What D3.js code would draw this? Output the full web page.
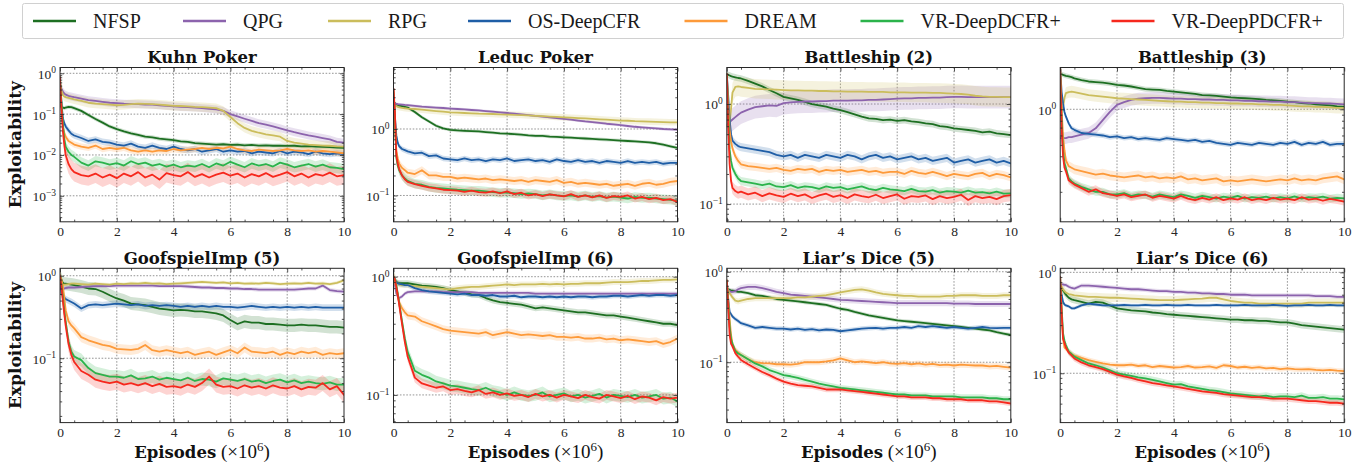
<!DOCTYPE html>
<html><head><meta charset="utf-8">
<script src="https://cdn.jsdelivr.net/npm/d3@7"></script>
<style>body{margin:0;background:#fff}svg{display:block}</style>
</head><body>
<svg id="chart" width="1369" height="468"></svg>
<script>
// ---------------- DATA ----------------
const X = [0,0.05,0.1,0.15,0.2,0.3,0.4,0.5,0.75,1,1.25,1.5,1.75,2,2.25,2.5,2.75,3,3.25,3.5,3.75,4,4.25,4.5,4.75,5,5.25,5.5,5.75,6,6.25,6.5,6.75,7,7.25,7.5,7.75,8,8.25,8.5,8.75,9,9.25,9.5,9.75,10];
const seriesNames = ["NFSP","QPG","RPG","OS-DeepCFR","DREAM","VR-DeepDCFR+","VR-DeepPDCFR+"];
const seriesColors = ["#1d6f22","#8c63ad","#cbbd5c","#1f5ea6","#fd9a3a","#2bb34b","#f6281d"];
const panelTitles = ["Kuhn Poker","Leduc Poker","Battleship (2)","Battleship (3)","GoofspielImp (5)","GoofspielImp (6)","Liar\u2019s Dice (5)","Liar\u2019s Dice (6)"];
const xTicks = [0,2,4,6,8,10];

// Kuhn Poker
const kuhn_NFSP = [0.16,0.15,0.145,0.14,0.145,0.15,0.148,0.14,0.12,0.095,0.076,0.062,0.05,0.043,0.038,0.034,0.031,0.028,0.027,0.025,0.024,0.023,0.0215,0.021,0.0195,0.019,0.0185,0.018,0.0183,0.0176,0.018,0.0172,0.0176,0.017,0.0172,0.0168,0.017,0.0166,0.0168,0.0162,0.0164,0.016,0.0158,0.0156,0.0152,0.015];
const kuhn_QPG = [0.5,0.42,0.36,0.32,0.3,0.28,0.27,0.26,0.24,0.22,0.21,0.2,0.19,0.185,0.18,0.178,0.175,0.172,0.17,0.165,0.16,0.155,0.15,0.148,0.145,0.14,0.135,0.13,0.12,0.1,0.088,0.077,0.068,0.06,0.055,0.05,0.045,0.04,0.036,0.033,0.03,0.028,0.026,0.024,0.021,0.02];
const kuhn_RPG = [0.55,0.38,0.3,0.27,0.26,0.25,0.24,0.23,0.21,0.19,0.18,0.175,0.17,0.165,0.168,0.175,0.18,0.178,0.175,0.17,0.165,0.16,0.158,0.155,0.15,0.148,0.145,0.14,0.12,0.085,0.06,0.046,0.039,0.035,0.032,0.03,0.028,0.022,0.02,0.019,0.018,0.0175,0.017,0.0168,0.0162,0.016];
const kuhn_OS = [0.6,0.2,0.08,0.06,0.05,0.04,0.033,0.03,0.026,0.022,0.024,0.021,0.02,0.018,0.017,0.019,0.016,0.015,0.017,0.015,0.014,0.016,0.014,0.013,0.014,0.012,0.013,0.014,0.012,0.013,0.012,0.0125,0.011,0.012,0.0115,0.011,0.0125,0.011,0.012,0.0115,0.0105,0.012,0.011,0.0105,0.011,0.0105];
const kuhn_DREAM = [0.6,0.15,0.05,0.035,0.028,0.022,0.02,0.018,0.016,0.015,0.017,0.014,0.015,0.014,0.015,0.013,0.012,0.013,0.012,0.013,0.0125,0.014,0.013,0.0135,0.014,0.015,0.014,0.015,0.0145,0.016,0.014,0.013,0.0125,0.0135,0.013,0.0125,0.013,0.014,0.013,0.0125,0.013,0.012,0.0125,0.012,0.0115,0.011];
const kuhn_VRD = [0.8,0.2,0.06,0.025,0.016,0.012,0.01,0.009,0.0065,0.0055,0.007,0.0065,0.0058,0.0063,0.0055,0.007,0.006,0.0065,0.0055,0.006,0.0052,0.0058,0.005,0.0055,0.0052,0.006,0.005,0.0062,0.0055,0.0068,0.0058,0.005,0.0062,0.0055,0.006,0.0052,0.0065,0.0058,0.005,0.0055,0.006,0.0052,0.0058,0.005,0.0048,0.0045];
const kuhn_VRPD = [0.8,0.15,0.04,0.018,0.01,0.006,0.0045,0.0038,0.0032,0.003,0.0035,0.0028,0.0033,0.0027,0.0035,0.003,0.0038,0.0028,0.0033,0.0025,0.0036,0.0032,0.003,0.0038,0.0029,0.0034,0.0028,0.0033,0.0037,0.0031,0.0035,0.0028,0.0034,0.003,0.0036,0.0029,0.0033,0.0038,0.003,0.0035,0.0028,0.0034,0.0031,0.0037,0.003,0.0032];
const kuhn_band = [1.12,1.25,1.3,1.2,1.2,1.35,1.7];

// Leduc Poker
const leduc_NFSP = [2.5,2.45,2.35,2.3,2.25,2.2,2.15,2.1,1.8,1.5,1.3,1.12,1.02,0.97,0.95,0.94,0.93,0.92,0.9,0.88,0.86,0.85,0.84,0.82,0.8,0.79,0.79,0.77,0.76,0.75,0.74,0.73,0.72,0.71,0.7,0.69,0.68,0.67,0.66,0.65,0.64,0.63,0.61,0.58,0.55,0.52];
const leduc_QPG = [2.4,2.4,2.38,2.36,2.35,2.33,2.3,2.28,2.22,2.17,2.14,2.1,2.07,2.03,2.0,1.97,1.93,1.9,1.86,1.82,1.78,1.74,1.7,1.66,1.62,1.58,1.54,1.5,1.46,1.42,1.38,1.34,1.3,1.27,1.24,1.2,1.17,1.14,1.11,1.08,1.06,1.04,1.02,1.0,0.99,0.98];
const leduc_RPG = [2.3,2.25,2.2,2.15,2.12,2.08,2.05,2.03,2.0,1.95,1.9,1.86,1.82,1.78,1.76,1.74,1.72,1.7,1.69,1.68,1.66,1.65,1.63,1.62,1.6,1.58,1.56,1.54,1.52,1.5,1.48,1.46,1.44,1.42,1.4,1.38,1.36,1.34,1.33,1.31,1.3,1.29,1.28,1.27,1.26,1.26];
const leduc_OS = [4.0,1.5,0.8,0.62,0.55,0.5,0.48,0.46,0.43,0.44,0.39,0.4,0.36,0.35,0.34,0.36,0.34,0.35,0.33,0.35,0.34,0.36,0.33,0.34,0.35,0.33,0.34,0.32,0.35,0.33,0.32,0.34,0.32,0.33,0.31,0.33,0.32,0.31,0.33,0.31,0.32,0.31,0.32,0.3,0.31,0.31];
const leduc_DREAM = [4.0,1.2,0.47,0.36,0.3,0.26,0.24,0.22,0.21,0.24,0.2,0.2,0.19,0.19,0.18,0.185,0.18,0.175,0.18,0.17,0.175,0.17,0.165,0.17,0.16,0.17,0.165,0.16,0.17,0.155,0.16,0.15,0.155,0.15,0.145,0.15,0.14,0.145,0.15,0.14,0.15,0.155,0.145,0.15,0.16,0.165];
const leduc_VRD = [3.5,1.5,0.37,0.28,0.24,0.2,0.18,0.166,0.15,0.145,0.135,0.13,0.128,0.125,0.122,0.12,0.118,0.118,0.115,0.112,0.11,0.11,0.108,0.105,0.107,0.105,0.1,0.104,0.1,0.098,0.1,0.096,0.1,0.095,0.098,0.093,0.096,0.093,0.09,0.095,0.092,0.093,0.09,0.088,0.086,0.083];
const leduc_VRPD = [4.0,1.8,0.4,0.3,0.25,0.2,0.175,0.16,0.148,0.14,0.132,0.128,0.122,0.12,0.118,0.113,0.118,0.112,0.11,0.115,0.108,0.115,0.105,0.11,0.1,0.105,0.098,0.104,0.1,0.097,0.105,0.095,0.1,0.094,0.1,0.092,0.098,0.095,0.1,0.09,0.095,0.088,0.092,0.085,0.088,0.08];
const leduc_band = [1.06,1.05,1.12,1.1,1.15,1.18,1.15];

// Battleship (2)
const bs2_NFSP = [2.0,1.95,1.93,1.9,1.88,1.85,1.82,1.8,1.7,1.6,1.5,1.38,1.28,1.18,1.14,1.1,1.05,1.0,0.97,0.94,0.9,0.87,0.83,0.79,0.75,0.72,0.71,0.69,0.7,0.68,0.69,0.67,0.66,0.64,0.63,0.6,0.59,0.57,0.56,0.55,0.54,0.52,0.53,0.51,0.5,0.49];
const bs2_QPG = [0.62,0.64,0.66,0.68,0.7,0.74,0.78,0.82,0.88,0.93,0.95,0.97,0.96,1.02,1.04,1.05,1.06,1.06,1.07,1.07,1.08,1.08,1.08,1.09,1.09,1.1,1.1,1.11,1.12,1.13,1.14,1.14,1.15,1.15,1.16,1.16,1.17,1.18,1.18,1.17,1.17,1.17,1.17,1.17,1.17,1.17];
const bs2_RPG = [0.6,0.62,0.65,0.9,1.3,1.48,1.5,1.48,1.45,1.42,1.41,1.4,1.39,1.38,1.37,1.37,1.36,1.36,1.35,1.35,1.34,1.34,1.33,1.33,1.33,1.32,1.32,1.32,1.31,1.31,1.31,1.3,1.3,1.3,1.29,1.29,1.28,1.27,1.26,1.24,1.21,1.19,1.18,1.18,1.17,1.17];
const bs2_OS = [2.0,1.2,0.7,0.5,0.43,0.4,0.38,0.37,0.36,0.35,0.34,0.33,0.31,0.3,0.31,0.29,0.31,0.3,0.29,0.31,0.3,0.29,0.31,0.3,0.28,0.3,0.31,0.29,0.3,0.28,0.29,0.3,0.28,0.29,0.27,0.28,0.29,0.26,0.27,0.28,0.26,0.27,0.28,0.26,0.27,0.255];
const bs2_DREAM = [2.0,1.0,0.55,0.42,0.36,0.3,0.27,0.25,0.24,0.235,0.23,0.225,0.23,0.22,0.215,0.225,0.22,0.225,0.21,0.22,0.215,0.22,0.21,0.215,0.22,0.21,0.215,0.205,0.21,0.21,0.2,0.215,0.205,0.2,0.21,0.2,0.19,0.2,0.195,0.19,0.2,0.205,0.19,0.2,0.195,0.185];
const bs2_VRD = [2.0,0.8,0.35,0.27,0.23,0.2,0.18,0.17,0.165,0.16,0.155,0.16,0.15,0.148,0.155,0.145,0.15,0.148,0.142,0.15,0.145,0.148,0.14,0.145,0.15,0.142,0.138,0.145,0.14,0.138,0.135,0.142,0.135,0.133,0.138,0.13,0.135,0.133,0.13,0.136,0.13,0.132,0.128,0.133,0.127,0.128];
const bs2_VRPD = [2.0,0.6,0.25,0.17,0.145,0.135,0.13,0.133,0.125,0.13,0.12,0.128,0.122,0.118,0.127,0.12,0.125,0.115,0.122,0.127,0.118,0.123,0.115,0.125,0.12,0.117,0.124,0.115,0.12,0.125,0.113,0.12,0.118,0.122,0.112,0.12,0.115,0.118,0.124,0.11,0.12,0.115,0.118,0.112,0.12,0.123];
const bs2_band = [1.08,1.3,1.25,1.1,1.1,1.1,1.15];

// Battleship (3)
const bs3_NFSP = [2.0,1.98,1.96,1.94,1.92,1.9,1.87,1.83,1.77,1.72,1.7,1.68,1.65,1.61,1.59,1.56,1.52,1.48,1.47,1.46,1.43,1.41,1.39,1.37,1.35,1.32,1.31,1.3,1.28,1.26,1.25,1.24,1.23,1.22,1.2,1.19,1.18,1.16,1.15,1.13,1.12,1.1,1.09,1.08,1.06,1.05];
const bs3_QPG = [0.57,0.57,0.57,0.57,0.57,0.58,0.58,0.59,0.61,0.63,0.69,0.81,0.95,1.09,1.15,1.2,1.23,1.24,1.25,1.25,1.24,1.23,1.23,1.22,1.22,1.21,1.21,1.2,1.2,1.19,1.19,1.18,1.18,1.17,1.17,1.16,1.16,1.15,1.15,1.14,1.13,1.13,1.12,1.12,1.11,1.1];
const bs3_RPG = [1.0,1.0,1.05,1.25,1.37,1.4,1.41,1.4,1.36,1.32,1.3,1.28,1.26,1.24,1.23,1.22,1.21,1.2,1.19,1.18,1.17,1.16,1.16,1.15,1.15,1.14,1.14,1.13,1.13,1.12,1.12,1.11,1.11,1.1,1.1,1.09,1.09,1.08,1.07,1.06,1.06,1.05,1.05,1.04,1.03,1.03];
const bs3_OS = [2.2,1.4,1.12,0.95,0.87,0.76,0.69,0.67,0.63,0.62,0.61,0.6,0.58,0.59,0.57,0.58,0.56,0.57,0.56,0.55,0.57,0.56,0.55,0.54,0.55,0.53,0.54,0.52,0.51,0.5,0.52,0.51,0.5,0.52,0.51,0.5,0.52,0.51,0.53,0.5,0.52,0.51,0.53,0.5,0.51,0.51];
const bs3_DREAM = [2.2,1.0,0.6,0.45,0.37,0.33,0.32,0.31,0.3,0.29,0.28,0.285,0.275,0.27,0.265,0.27,0.275,0.265,0.27,0.26,0.265,0.26,0.27,0.255,0.26,0.25,0.255,0.26,0.245,0.25,0.245,0.25,0.255,0.25,0.245,0.25,0.255,0.25,0.26,0.25,0.255,0.25,0.26,0.265,0.27,0.255];
const bs3_VRD = [2.2,0.8,0.45,0.35,0.32,0.26,0.245,0.235,0.22,0.21,0.2,0.2,0.19,0.19,0.195,0.185,0.19,0.188,0.182,0.19,0.185,0.18,0.19,0.185,0.178,0.185,0.18,0.175,0.182,0.178,0.185,0.175,0.18,0.178,0.182,0.175,0.18,0.176,0.183,0.175,0.18,0.178,0.182,0.175,0.178,0.176];
const bs3_VRPD = [2.2,0.7,0.4,0.32,0.3,0.25,0.24,0.23,0.215,0.2,0.21,0.195,0.19,0.185,0.19,0.18,0.185,0.19,0.178,0.185,0.18,0.175,0.185,0.175,0.17,0.178,0.172,0.18,0.17,0.176,0.172,0.18,0.17,0.175,0.17,0.178,0.172,0.175,0.17,0.18,0.172,0.175,0.168,0.174,0.17,0.165];
const bs3_band = [1.05,1.12,1.12,1.05,1.1,1.08,1.08];

// GoofspielImp (5)
const g5_NFSP = [1.0,0.9,0.82,0.8,0.8,0.79,0.78,0.77,0.74,0.7,0.69,0.64,0.58,0.53,0.5,0.46,0.45,0.44,0.42,0.4,0.39,0.38,0.385,0.38,0.37,0.37,0.36,0.35,0.33,0.29,0.26,0.28,0.27,0.27,0.26,0.26,0.255,0.25,0.25,0.255,0.25,0.25,0.245,0.24,0.24,0.235];
const g5_QPG = [0.75,0.72,0.7,0.7,0.71,0.72,0.72,0.72,0.73,0.74,0.75,0.75,0.75,0.76,0.76,0.76,0.76,0.76,0.76,0.75,0.75,0.75,0.75,0.74,0.73,0.72,0.72,0.71,0.71,0.7,0.7,0.69,0.69,0.68,0.68,0.68,0.68,0.68,0.68,0.69,0.7,0.7,0.76,0.67,0.65,0.64];
const g5_RPG = [0.75,0.76,0.77,0.78,0.78,0.79,0.8,0.8,0.79,0.78,0.8,0.79,0.78,0.8,0.79,0.81,0.8,0.82,0.8,0.81,0.79,0.8,0.81,0.82,0.83,0.84,0.83,0.82,0.83,0.81,0.82,0.8,0.81,0.8,0.82,0.81,0.79,0.8,0.81,0.8,0.82,0.8,0.81,0.79,0.82,0.88];
const g5_OS = [1.0,0.6,0.58,0.55,0.52,0.5,0.48,0.46,0.4,0.44,0.45,0.44,0.45,0.46,0.45,0.44,0.45,0.43,0.44,0.43,0.44,0.43,0.42,0.43,0.42,0.43,0.42,0.43,0.42,0.42,0.41,0.42,0.43,0.42,0.41,0.42,0.41,0.42,0.41,0.42,0.41,0.42,0.41,0.41,0.41,0.41];
const g5_DREAM = [1.0,0.9,0.75,0.55,0.38,0.28,0.25,0.23,0.18,0.165,0.155,0.145,0.14,0.13,0.128,0.126,0.13,0.145,0.125,0.12,0.125,0.12,0.115,0.12,0.11,0.115,0.12,0.11,0.118,0.126,0.115,0.135,0.12,0.118,0.115,0.12,0.11,0.118,0.112,0.12,0.115,0.12,0.11,0.115,0.112,0.115];
const g5_VRD = [1.0,0.8,0.55,0.38,0.28,0.16,0.12,0.105,0.095,0.076,0.066,0.063,0.06,0.06,0.058,0.062,0.056,0.057,0.06,0.055,0.058,0.056,0.054,0.058,0.053,0.056,0.055,0.052,0.057,0.055,0.053,0.056,0.052,0.054,0.05,0.053,0.055,0.051,0.054,0.05,0.052,0.05,0.049,0.051,0.048,0.048];
const g5_VRPD = [1.0,0.75,0.5,0.35,0.25,0.15,0.11,0.09,0.07,0.063,0.055,0.052,0.05,0.052,0.048,0.05,0.047,0.05,0.046,0.049,0.045,0.046,0.044,0.048,0.045,0.05,0.06,0.048,0.045,0.046,0.043,0.047,0.044,0.046,0.043,0.047,0.044,0.043,0.046,0.042,0.045,0.044,0.05,0.042,0.046,0.036];
const g5_band = [1.2,1.06,1.05,1.1,1.15,1.2,1.25];

// GoofspielImp (6)
const g6_NFSP = [1.0,0.93,0.9,0.89,0.88,0.88,0.88,0.88,0.86,0.84,0.83,0.82,0.8,0.77,0.75,0.73,0.71,0.7,0.66,0.63,0.61,0.6,0.59,0.58,0.56,0.54,0.55,0.54,0.53,0.52,0.51,0.5,0.5,0.49,0.48,0.47,0.47,0.46,0.45,0.44,0.43,0.42,0.41,0.4,0.4,0.39];
const g6_QPG = [1.0,0.85,0.72,0.68,0.66,0.68,0.72,0.74,0.75,0.75,0.75,0.75,0.74,0.74,0.74,0.74,0.74,0.73,0.73,0.73,0.73,0.73,0.73,0.73,0.73,0.72,0.72,0.72,0.72,0.72,0.72,0.72,0.72,0.72,0.72,0.72,0.72,0.72,0.72,0.72,0.72,0.72,0.72,0.72,0.72,0.72];
const g6_RPG = [1.0,0.95,0.9,0.88,0.86,0.85,0.85,0.85,0.83,0.82,0.81,0.8,0.79,0.78,0.8,0.81,0.82,0.82,0.83,0.84,0.85,0.86,0.85,0.86,0.86,0.86,0.87,0.86,0.87,0.86,0.87,0.87,0.88,0.88,0.88,0.89,0.9,0.9,0.9,0.91,0.92,0.92,0.93,0.94,0.94,0.95];
const g6_OS = [1.0,0.93,0.9,0.88,0.87,0.86,0.85,0.85,0.8,0.77,0.75,0.74,0.73,0.72,0.71,0.72,0.7,0.7,0.69,0.7,0.68,0.68,0.69,0.67,0.68,0.68,0.67,0.68,0.67,0.68,0.67,0.68,0.68,0.67,0.68,0.68,0.69,0.69,0.68,0.69,0.7,0.69,0.7,0.7,0.69,0.7];
const g6_DREAM = [1.0,0.9,0.8,0.7,0.61,0.54,0.5,0.47,0.46,0.42,0.4,0.38,0.36,0.35,0.345,0.34,0.335,0.33,0.34,0.32,0.33,0.34,0.33,0.32,0.325,0.32,0.315,0.32,0.31,0.31,0.305,0.31,0.3,0.3,0.305,0.295,0.3,0.29,0.295,0.29,0.285,0.28,0.285,0.27,0.28,0.3];
const g6_VRD = [1.0,0.95,0.85,0.72,0.6,0.42,0.3,0.23,0.16,0.148,0.14,0.13,0.125,0.12,0.118,0.115,0.112,0.11,0.115,0.108,0.105,0.1,0.105,0.1,0.098,0.1,0.105,0.097,0.1,0.103,0.097,0.1,0.095,0.098,0.102,0.095,0.1,0.098,0.096,0.1,0.095,0.097,0.1,0.093,0.095,0.088];
const g6_VRPD = [1.0,0.95,0.82,0.7,0.58,0.4,0.28,0.21,0.14,0.125,0.12,0.115,0.118,0.11,0.112,0.108,0.105,0.11,0.102,0.105,0.1,0.103,0.098,0.1,0.096,0.102,0.097,0.1,0.095,0.1,0.097,0.094,0.1,0.096,0.093,0.1,0.097,0.094,0.098,0.092,0.097,0.095,0.09,0.096,0.093,0.095];
const g6_band = [1.06,1.04,1.06,1.05,1.08,1.12,1.1];

// Liar's Dice (5)
const ld5_NFSP = [0.65,0.64,0.63,0.62,0.62,0.61,0.6,0.6,0.58,0.55,0.54,0.52,0.5,0.49,0.48,0.47,0.46,0.45,0.44,0.43,0.41,0.39,0.38,0.36,0.345,0.33,0.32,0.31,0.3,0.29,0.285,0.28,0.275,0.27,0.265,0.26,0.255,0.25,0.245,0.24,0.235,0.23,0.225,0.215,0.207,0.2];
const ld5_QPG = [0.65,0.63,0.61,0.6,0.6,0.61,0.64,0.66,0.68,0.68,0.66,0.63,0.6,0.58,0.56,0.55,0.54,0.53,0.52,0.51,0.5,0.49,0.485,0.48,0.475,0.47,0.465,0.46,0.455,0.45,0.45,0.45,0.45,0.45,0.45,0.45,0.45,0.445,0.445,0.445,0.44,0.44,0.44,0.44,0.44,0.44];
const ld5_RPG = [0.65,0.62,0.58,0.55,0.52,0.48,0.47,0.48,0.5,0.51,0.51,0.51,0.51,0.51,0.51,0.52,0.52,0.53,0.54,0.55,0.57,0.59,0.61,0.63,0.64,0.62,0.59,0.57,0.56,0.55,0.54,0.54,0.53,0.53,0.53,0.53,0.54,0.54,0.55,0.55,0.55,0.54,0.54,0.54,0.55,0.55];
const ld5_OS = [0.7,0.5,0.36,0.34,0.32,0.3,0.285,0.27,0.255,0.24,0.245,0.24,0.235,0.235,0.23,0.235,0.228,0.232,0.225,0.23,0.228,0.22,0.225,0.23,0.235,0.238,0.24,0.235,0.24,0.24,0.245,0.24,0.25,0.245,0.25,0.245,0.24,0.245,0.24,0.235,0.24,0.245,0.24,0.238,0.24,0.24];
const ld5_DREAM = [0.8,0.5,0.3,0.2,0.16,0.137,0.128,0.12,0.108,0.1,0.098,0.097,0.095,0.095,0.094,0.096,0.1,0.1,0.1,0.102,0.105,0.11,0.105,0.1,0.102,0.1,0.098,0.1,0.097,0.096,0.098,0.095,0.097,0.094,0.096,0.093,0.094,0.092,0.094,0.093,0.092,0.092,0.09,0.091,0.089,0.087];
const ld5_VRD = [0.8,0.45,0.25,0.18,0.16,0.133,0.125,0.12,0.108,0.097,0.09,0.082,0.077,0.072,0.07,0.067,0.064,0.061,0.058,0.056,0.054,0.052,0.051,0.05,0.049,0.048,0.047,0.046,0.045,0.044,0.044,0.043,0.043,0.043,0.042,0.042,0.042,0.042,0.041,0.041,0.041,0.041,0.04,0.04,0.039,0.039];
const ld5_VRPD = [0.8,0.4,0.2,0.16,0.15,0.126,0.115,0.106,0.095,0.086,0.078,0.072,0.066,0.061,0.058,0.056,0.055,0.054,0.052,0.05,0.05,0.05,0.049,0.048,0.047,0.046,0.045,0.044,0.043,0.042,0.042,0.041,0.041,0.041,0.04,0.04,0.039,0.039,0.039,0.038,0.038,0.038,0.037,0.037,0.036,0.035];
const ld5_band = [1.05,1.08,1.08,1.06,1.08,1.08,1.07];

// Liar's Dice (6)
const ld6_NFSP = [0.7,0.68,0.66,0.63,0.6,0.56,0.54,0.53,0.51,0.49,0.51,0.5,0.47,0.44,0.43,0.42,0.415,0.41,0.4,0.395,0.385,0.38,0.375,0.37,0.365,0.36,0.355,0.35,0.345,0.34,0.34,0.335,0.335,0.33,0.33,0.325,0.32,0.32,0.31,0.3,0.295,0.29,0.285,0.28,0.275,0.27];
const ld6_QPG = [0.75,0.76,0.76,0.75,0.75,0.72,0.7,0.69,0.74,0.74,0.73,0.72,0.71,0.7,0.69,0.68,0.68,0.67,0.66,0.65,0.65,0.64,0.64,0.63,0.63,0.62,0.62,0.61,0.61,0.6,0.6,0.6,0.59,0.59,0.59,0.59,0.59,0.59,0.59,0.59,0.59,0.58,0.58,0.58,0.57,0.57];
const ld6_RPG = [0.75,0.72,0.68,0.65,0.63,0.61,0.6,0.59,0.58,0.57,0.57,0.565,0.56,0.56,0.555,0.55,0.545,0.54,0.535,0.53,0.53,0.53,0.535,0.54,0.545,0.55,0.56,0.56,0.54,0.52,0.51,0.5,0.5,0.49,0.49,0.49,0.49,0.49,0.49,0.49,0.5,0.5,0.5,0.5,0.5,0.5];
const ld6_OS = [0.7,0.6,0.51,0.48,0.47,0.46,0.44,0.44,0.47,0.49,0.48,0.47,0.47,0.47,0.475,0.47,0.47,0.475,0.47,0.47,0.475,0.47,0.47,0.475,0.47,0.47,0.47,0.475,0.47,0.47,0.47,0.475,0.47,0.47,0.47,0.475,0.47,0.465,0.47,0.47,0.475,0.47,0.47,0.475,0.47,0.47];
const ld6_DREAM = [0.8,0.4,0.22,0.18,0.175,0.164,0.155,0.15,0.142,0.135,0.13,0.125,0.122,0.12,0.12,0.122,0.118,0.12,0.115,0.118,0.116,0.114,0.115,0.118,0.114,0.115,0.117,0.113,0.12,0.118,0.114,0.116,0.113,0.115,0.112,0.113,0.11,0.112,0.11,0.109,0.11,0.108,0.107,0.108,0.106,0.105];
const ld6_VRD = [0.9,0.45,0.25,0.21,0.19,0.164,0.155,0.146,0.135,0.125,0.12,0.114,0.107,0.1,0.097,0.094,0.091,0.089,0.086,0.083,0.08,0.077,0.078,0.074,0.072,0.07,0.068,0.067,0.065,0.063,0.062,0.061,0.06,0.059,0.06,0.058,0.059,0.059,0.058,0.06,0.057,0.057,0.058,0.056,0.056,0.055];
const ld6_VRPD = [0.9,0.4,0.22,0.2,0.18,0.16,0.15,0.14,0.128,0.12,0.115,0.11,0.103,0.097,0.093,0.09,0.086,0.083,0.08,0.078,0.076,0.074,0.072,0.07,0.068,0.066,0.065,0.064,0.062,0.061,0.06,0.059,0.058,0.058,0.057,0.056,0.056,0.056,0.055,0.054,0.053,0.053,0.052,0.051,0.051,0.05];
const ld6_band = [1.08,1.05,1.1,1.04,1.06,1.08,1.07];

// y tick values and axis limits (log10 exponents)
const yTicksPerPanel = [[1,0.1,0.01,0.001],[1,0.1],[1,0.1],[1],[1,0.1],[1,0.1],[1,0.1],[1,0.1]];
const yLimitsLog = [[-3.637,0.142],[-1.396,0.925],[-1.177,0.365],[-0.953,0.354],[-1.78,0.09],[-1.234,0.071],[-1.667,0.038],[-1.489,0.04]];

// ---------------- DRAWING ----------------
const panelValues = [
  [kuhn_NFSP,kuhn_QPG,kuhn_RPG,kuhn_OS,kuhn_DREAM,kuhn_VRD,kuhn_VRPD],
  [leduc_NFSP,leduc_QPG,leduc_RPG,leduc_OS,leduc_DREAM,leduc_VRD,leduc_VRPD],
  [bs2_NFSP,bs2_QPG,bs2_RPG,bs2_OS,bs2_DREAM,bs2_VRD,bs2_VRPD],
  [bs3_NFSP,bs3_QPG,bs3_RPG,bs3_OS,bs3_DREAM,bs3_VRD,bs3_VRPD],
  [g5_NFSP,g5_QPG,g5_RPG,g5_OS,g5_DREAM,g5_VRD,g5_VRPD],
  [g6_NFSP,g6_QPG,g6_RPG,g6_OS,g6_DREAM,g6_VRD,g6_VRPD],
  [ld5_NFSP,ld5_QPG,ld5_RPG,ld5_OS,ld5_DREAM,ld5_VRD,ld5_VRPD],
  [ld6_NFSP,ld6_QPG,ld6_RPG,ld6_OS,ld6_DREAM,ld6_VRD,ld6_VRPD]
];
const panelBands = [kuhn_band,leduc_band,bs2_band,bs3_band,g5_band,g6_band,ld5_band,ld6_band];

const REG = '"Liberation Serif","Times New Roman",serif';
const BOLD = '"DejaVu Serif",serif';
const svg = d3.select('#chart');
const lefts = [60, 393.5, 726.8, 1060.2], tops = [67.5, 268.3];
const PW = 284, PH = 154.3;
const INK = '#262626';

const defs = svg.append('defs');

panelValues.forEach((vals, pi) => {
  const col = pi % 4, row = Math.floor(pi / 4);
  const x0 = lefts[col], y0 = tops[row];
  const xs = d3.scaleLinear().domain([0, 10]).range([x0, x0 + PW]);
  const lim = yLimitsLog[pi];
  const ys = d3.scaleLog().domain([Math.pow(10, lim[0]), Math.pow(10, lim[1])]).range([y0 + PH, y0]);
  const g = svg.append('g');
  const cid = 'clip' + pi;
  defs.append('clipPath').attr('id', cid).append('rect').attr('x', x0).attr('y', y0).attr('width', PW).attr('height', PH);

  // grid
  const grid = g.append('g').attr('stroke', '#7a7a7a').attr('stroke-width', 0.8).attr('stroke-dasharray', '1.6,1.6');
  xTicks.filter(v => v > 0 && v < 10).forEach(v => grid.append('line').attr('x1', xs(v)).attr('x2', xs(v)).attr('y1', y0).attr('y2', y0 + PH));
  yTicksPerPanel[pi].forEach(v => grid.append('line').attr('x1', x0).attr('x2', x0 + PW).attr('y1', ys(v)).attr('y2', ys(v)));

  const plot = g.append('g').attr('clip-path', `url(#${cid})`);
  const band = panelBands[pi];
  vals.forEach((arr, k) => {
    const s = band[k];
    const area = d3.area().defined((d, j) => j < X.length)
      .x((d, j) => xs(X[j])).y0(d => ys(d / s)).y1(d => ys(d * s));
    plot.append('path').datum(arr).attr('d', area).attr('fill', seriesColors[k]).attr('fill-opacity', 0.2).attr('stroke', 'none');
  });
  vals.forEach((arr, k) => {
    const line = d3.line().defined((d, j) => j < X.length).x((d, j) => xs(X[j])).y(d => ys(d));
    plot.append('path').datum(arr).attr('d', line).attr('fill', 'none').attr('stroke', seriesColors[k])
      .attr('stroke-width', 1.8).attr('stroke-linejoin', 'round').attr('stroke-linecap', 'round');
  });

  // axes (inward ticks on all sides)
  const minorX = d3.range(0.5, 10, 1);
  const yd = ys.domain();
  const minorY = [];
  for (let e = Math.floor(Math.log10(yd[0])); e <= Math.ceil(Math.log10(yd[1])); e++) {
    for (let m = 2; m <= 9; m++) { const v = m * Math.pow(10, e); if (v >= yd[0] && v <= yd[1]) minorY.push(v); }
  }
  const styleAxis = sel => { sel.select('.domain').remove(); sel.selectAll('line').attr('stroke', INK).attr('stroke-width', 0.8); };

  const bottom = g.append('g').attr('transform', `translate(0,${y0 + PH})`)
    .call(d3.axisBottom(xs).tickValues(xTicks).tickSize(-4).tickPadding(5).tickFormat(d3.format('d')));
  styleAxis(bottom);
  bottom.selectAll('text').attr('font-family', REG).attr('font-size', 13.5).attr('fill', INK);
  g.append('g').attr('transform', `translate(0,${y0 + PH})`).call(d3.axisBottom(xs).tickValues(minorX).tickSize(-2.2).tickFormat('')).call(styleAxis);
  g.append('g').attr('transform', `translate(0,${y0})`).call(d3.axisTop(xs).tickValues(xTicks).tickSize(-4).tickFormat('')).call(styleAxis);
  g.append('g').attr('transform', `translate(0,${y0})`).call(d3.axisTop(xs).tickValues(minorX).tickSize(-2.2).tickFormat('')).call(styleAxis);

  const left = g.append('g').attr('transform', `translate(${x0},0)`)
    .call(d3.axisLeft(ys).tickValues(yTicksPerPanel[pi]).tickSize(-4).tickPadding(4));
  styleAxis(left);
  left.selectAll('.tick text').each(function (d) {
    const t = d3.select(this);
    const ex = Math.round(Math.log10(d));
    t.text(null).attr('font-family', REG).attr('font-size', 13.5).attr('fill', INK).attr('dy', '0.36em');
    t.append('tspan').text('10');
    t.append('tspan').attr('dy', -5.5).attr('font-size', 9.5).text(ex < 0 ? '\u2212' + (-ex) : String(ex));
  });
  g.append('g').attr('transform', `translate(${x0},0)`).call(d3.axisLeft(ys).tickValues(minorY).tickSize(-2.2).tickFormat('')).call(styleAxis);
  g.append('g').attr('transform', `translate(${x0 + PW},0)`).call(d3.axisRight(ys).tickValues(yTicksPerPanel[pi]).tickSize(-4).tickFormat('')).call(styleAxis);
  g.append('g').attr('transform', `translate(${x0 + PW},0)`).call(d3.axisRight(ys).tickValues(minorY).tickSize(-2.2).tickFormat('')).call(styleAxis);

  // frame
  g.append('rect').attr('x', x0).attr('y', y0).attr('width', PW).attr('height', PH)
    .attr('fill', 'none').attr('stroke', INK).attr('stroke-width', 1);

  // title
  g.append('text').attr('x', x0 + PW / 2).attr('y', y0 - 4.5).attr('text-anchor', 'middle')
    .attr('font-family', BOLD).attr('font-weight', 'bold').attr('font-size', 16.5).attr('fill', '#111')
    .text(panelTitles[pi]);

  if (col === 0) {
    g.append('text').attr('transform', `translate(21,${y0 + PH / 2}) rotate(-90)`).attr('text-anchor', 'middle')
      .attr('font-family', BOLD).attr('font-weight', 'bold').attr('font-size', 17).attr('fill', '#111')
      .text('Exploitability');
  }
  if (row === 1) {
    const t = g.append('text').attr('x', x0 + PW / 2).attr('y', 458).attr('text-anchor', 'middle').attr('fill', '#111');
    t.append('tspan').attr('font-family', BOLD).attr('font-weight', 'bold').attr('font-size', 16.5).text('Episodes');
    t.append('tspan').attr('font-family', REG).attr('font-size', 19).text(' (\u00d710');
    t.append('tspan').attr('font-family', REG).attr('font-size', 13).attr('dy', -7).text('6');
    t.append('tspan').attr('font-family', REG).attr('font-size', 19).attr('dy', 7).text(')');
  }
});

// legend
const leg = svg.append('g');
leg.append('rect').attr('x', 22.5).attr('y', 3.5).attr('width', 1321).attr('height', 35).attr('rx', 2)
  .attr('fill', '#fff').attr('stroke', '#d0d0d0').attr('stroke-width', 1);
const legLineX = [33, 183, 328, 468, 684.5, 860.5, 1111.5];
seriesNames.forEach((name, k) => {
  const lx = legLineX[k];
  leg.append('line').attr('x1', lx).attr('x2', lx + 43).attr('y1', 21).attr('y2', 21)
    .attr('stroke', seriesColors[k]).attr('stroke-width', 2.4);
  leg.append('text').attr('x', lx + 60).attr('y', 27.5).attr('font-family', REG).attr('font-size', 20).attr('fill', '#1a1a1a').text(name);
});
</script>
</body></html>
